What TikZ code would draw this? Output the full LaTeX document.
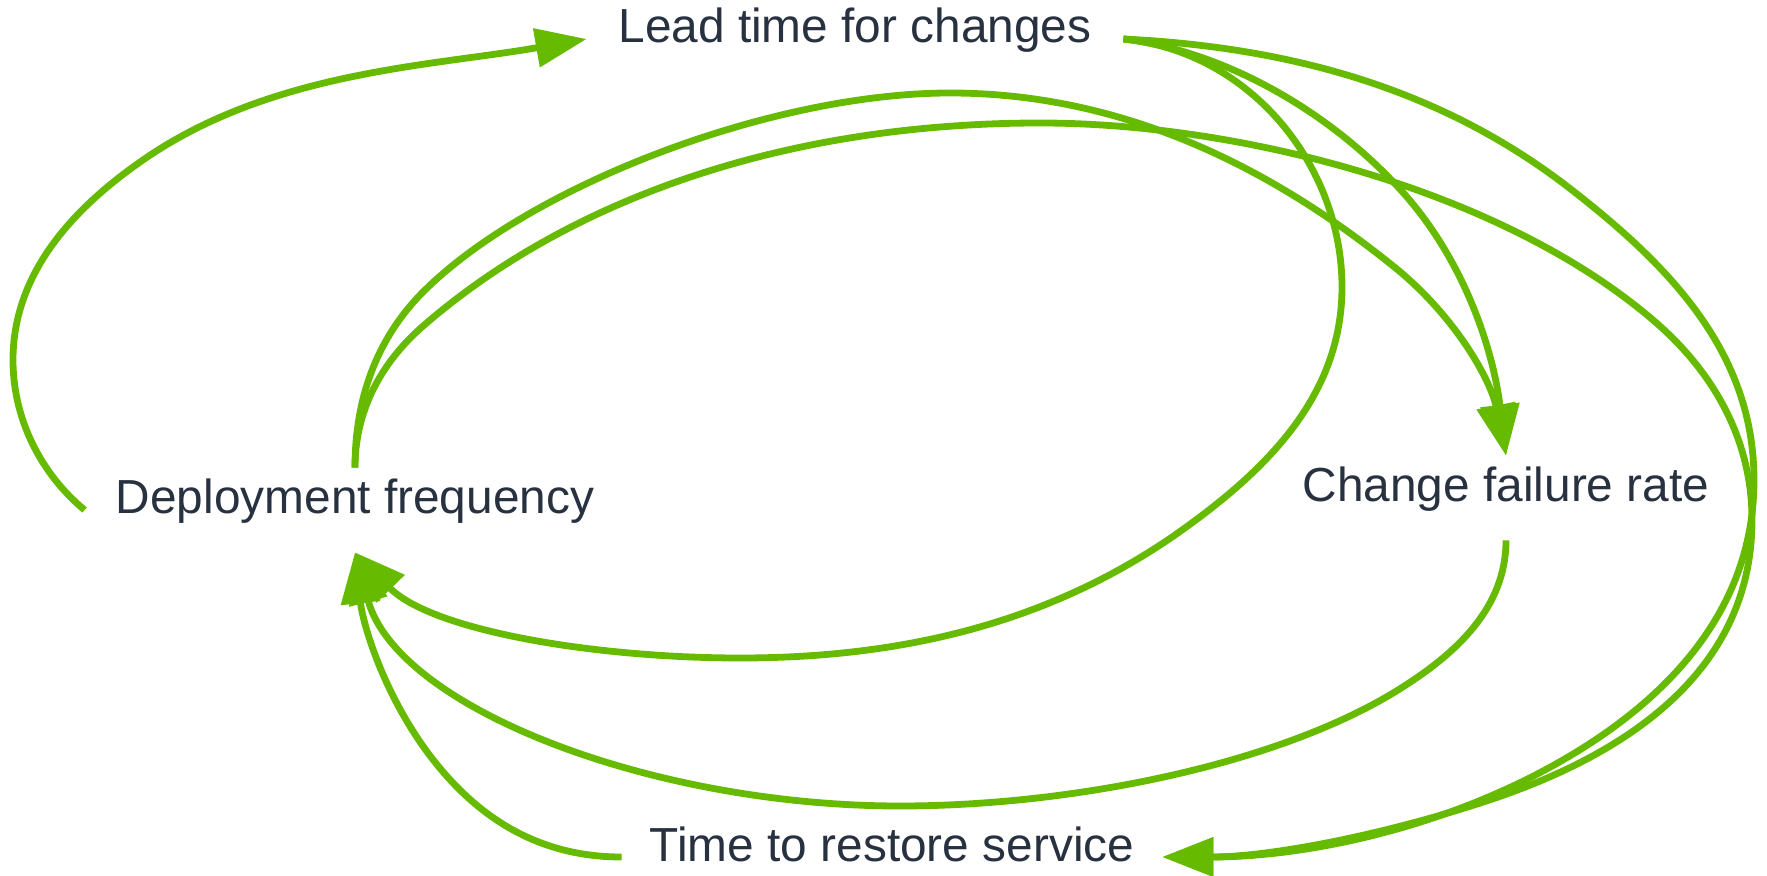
\documentclass[tikz,border=0pt]{standalone}
\usepackage{fontspec}
\setmainfont{Liberation Sans}
\usetikzlibrary{arrows.meta}
\definecolor{edgegreen}{RGB}{102,187,0}
\definecolor{labeltext}{RGB}{40,49,64}
\begin{document}
\begin{tikzpicture}[x=0.5pt,y=-0.5pt,
  lbl/.style={font=\fontsize{23.9pt}{28pt}\selectfont, text=labeltext, inner sep=0pt,
              text height=12pt, text depth=8pt, minimum height=42pt},
  conn/.style={draw=edgegreen, line width=3.4pt, -{Triangle[length=25.5pt,width=19pt]}}
  ]
\useasboundingbox (0,0) rectangle (1767,876);
\node[lbl, minimum width=268pt] (LT)  at (855,39)  {Lead time for changes};
\node[lbl, minimum width=270pt] (DF)  at (355,510) {Deployment frequency};
\node[lbl, minimum width=233pt] (CFR) at (1506,498) {Change failure rate};
\node[lbl, minimum width=270pt] (TRS) at (892,857) {Time to restore service};

% Deployment frequency -> Lead time for changes
\draw[conn] (DF.west) .. controls (40,473) and (13,418) .. (13,360)
  .. controls (13,274) and (72,209) .. (143,160)
  .. controls (271,71) and (433,66) .. (LT.west);
% Deployment frequency -> Change failure rate
\draw[conn] (DF.north) .. controls (355,401) and (375,341) .. (422,293)
  .. controls (527,187) and (770,93) .. (950,93)
  .. controls (1119,93) and (1268,164) .. (1398,270)
  .. controls (1457,319) and (1491,381) .. (CFR.north);
% Deployment frequency -> Time to restore service
\draw[conn] (DF.north) .. controls (355,412) and (380,364) .. (422,327)
  .. controls (565,202) and (780,123) .. (1040,123)
  .. controls (1240,123) and (1501,190) .. (1653,320)
  .. controls (1714,372) and (1752,440) .. (1752,520)
  .. controls (1752,675) and (1621,759) .. (1474,805)
  .. controls (1374,837) and (1267,857) .. (TRS.east);
% Lead time for changes -> Deployment frequency
\draw[conn] (LT.east) .. controls (1252,52) and (1342,167) .. (1342,287)
  .. controls (1342,397) and (1265,472) .. (1175,535)
  .. controls (1045,625) and (898,658) .. (740,658)
  .. controls (596,658) and (432,631) .. (DF.south);
% Lead time for changes -> Change failure rate
\draw[conn] (LT.east) .. controls (1217,50) and (1322,105) .. (1398,187)
  .. controls (1467,261) and (1494,356) .. (CFR.north);
% Lead time for changes -> Time to restore service
\draw[conn] (LT.east) .. controls (1287,47) and (1438,87) .. (1568,187)
  .. controls (1669,265) and (1754,352) .. (1754,480)
  .. controls (1754,604) and (1675,694) .. (1568,757)
  .. controls (1446,829) and (1304,857) .. (TRS.east);
% Change failure rate -> Deployment frequency
\draw[conn] (CFR.south) .. controls (1506,608) and (1456,654) .. (1398,690)
  .. controls (1279,764) and (1074,806) .. (900,806)
  .. controls (650,806) and (397,707) .. (DF.south);
% Time to restore service -> Deployment frequency
\draw[conn] (TRS.west) .. controls (542,857) and (480,821) .. (431,757)
  .. controls (385,697) and (363,626) .. (DF.south);
\end{tikzpicture}
\end{document}
